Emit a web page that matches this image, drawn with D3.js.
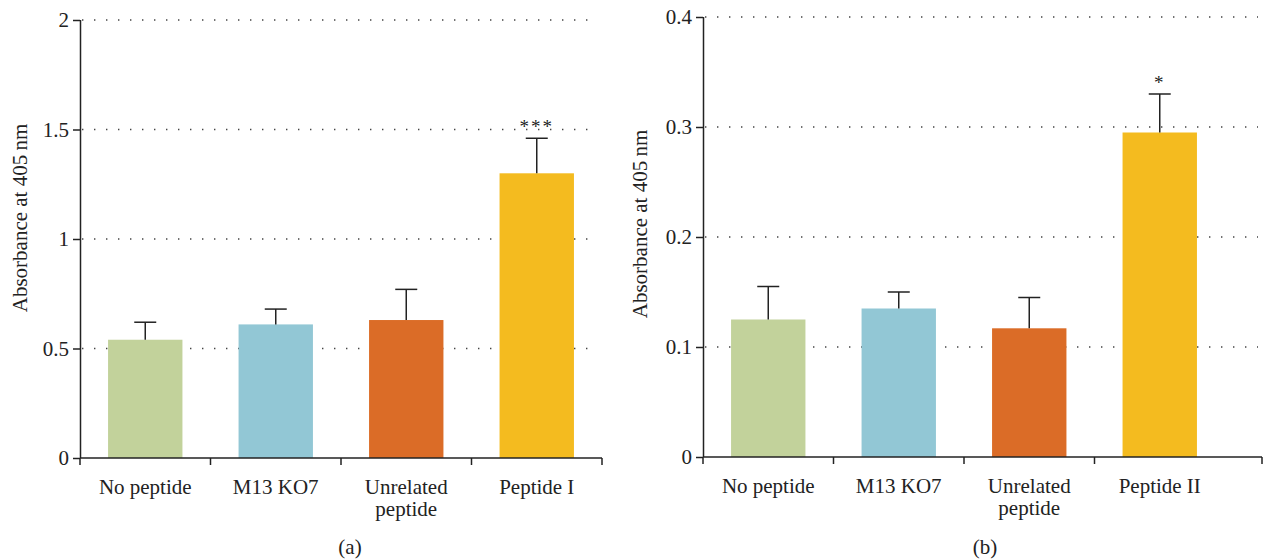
<!DOCTYPE html>
<html>
<head>
<meta charset="utf-8">
<script src="https://cdn.jsdelivr.net/npm/d3@7"></script>
<style>
  body { margin: 0; background: #fff; }
  svg { display: block; }
  svg text { font-family: "Liberation Serif", "Times New Roman", Times, serif !important; fill: #222; }
</style>
</head>
<body>
<div id="chart"></div>
<script>
// data
const categoriesA = ["No peptide", "M13 KO7", "Unrelated peptide", "Peptide I"];
const meansA = [0.54, 0.61, 0.63, 1.30];
const errorsA = [0.08, 0.07, 0.14, 0.16];
const signifA = ["", "", "", "***"];
const ticksA = [0, 0.5, 1, 1.5, 2];

const categoriesB = ["No peptide", "M13 KO7", "Unrelated peptide", "Peptide II"];
const meansB = [0.125, 0.135, 0.117, 0.295];
const errorsB = [0.030, 0.015, 0.028, 0.035];
const signifB = ["", "", "", "*"];
const ticksB = [0, 0.1, 0.2, 0.3, 0.4];

const barColors = ["#c2d29b", "#92c7d5", "#db6c27", "#f4bb1f"];
const fontSize = 21;

const svg = d3.select("#chart").append("svg")
    .attr("width", 1263)
    .attr("height", 560);

function buildPanel(opts) {
  const x = d3.scaleBand()
      .domain(opts.categories)
      .range([opts.left, opts.left + opts.bandsWidth])
      .paddingInner(0.43)
      .paddingOuter(0.215);

  const y = d3.scaleLinear()
      .domain([0, opts.ticks[opts.ticks.length - 1]])
      .range([opts.bottom, opts.top]);

  const g = svg.append("g");

  // dotted grid
  g.selectAll(".grid")
      .data(opts.ticks.filter(function(t) { return t > 0; }))
    .enter().append("line")
      .attr("x1", opts.left + 2)
      .attr("x2", opts.right - 4)
      .attr("y1", function(d) { return y(d); })
      .attr("y2", function(d) { return y(d); })
      .attr("stroke", "#444")
      .attr("stroke-width", 1.4)
      .attr("stroke-dasharray", "1.4,10.6");

  // bars
  g.selectAll(".bar")
      .data(opts.means)
    .enter().append("rect")
      .attr("x", function(d, i) { return x(opts.categories[i]); })
      .attr("width", x.bandwidth())
      .attr("y", function(d) { return y(d); })
      .attr("height", function(d) { return opts.bottom - y(d); })
      .attr("fill", function(d, i) { return barColors[i]; });

  // error bars (upper only)
  const err = g.selectAll(".err")
      .data(opts.means)
    .enter().append("g")
      .attr("stroke", "#222")
      .attr("stroke-width", 1.5);
  err.append("line")
      .attr("x1", function(d, i) { return x(opts.categories[i]) + x.bandwidth() / 2; })
      .attr("x2", function(d, i) { return x(opts.categories[i]) + x.bandwidth() / 2; })
      .attr("y1", function(d) { return y(d); })
      .attr("y2", function(d, i) { return y(d + opts.errors[i]); });
  err.append("line")
      .attr("x1", function(d, i) { return x(opts.categories[i]) + x.bandwidth() / 2 - 11; })
      .attr("x2", function(d, i) { return x(opts.categories[i]) + x.bandwidth() / 2 + 11; })
      .attr("y1", function(d, i) { return y(d + opts.errors[i]); })
      .attr("y2", function(d, i) { return y(d + opts.errors[i]); });

  // significance stars
  g.selectAll(".sig")
      .data(opts.signif)
    .enter().append("text")
      .attr("x", function(d, i) { return x(opts.categories[i]) + x.bandwidth() / 2; })
      .attr("y", function(d, i) { return y(opts.means[i] + opts.errors[i]) - 5; })
      .attr("text-anchor", "middle")
      .attr("font-size", 19)
      .attr("letter-spacing", 2)
      .text(function(d) { return d; });

  // y axis
  const yAxis = g.append("g")
      .attr("transform", "translate(" + opts.left + ",0)")
      .call(d3.axisLeft(y).tickValues(opts.ticks).tickSize(7).tickPadding(4)
        .tickFormat(function(d) { return d3.format("")(d); }));
  yAxis.select(".domain").attr("stroke", "#222").attr("stroke-width", 1.5)
      .attr("d", "M0.5," + opts.top + "V" + opts.bottom);
  yAxis.selectAll(".tick line").attr("stroke", "#222").attr("stroke-width", 1.5);
  yAxis.selectAll(".tick text").attr("font-size", fontSize).attr("fill", "#222");

  // x axis line and boundary ticks
  g.append("line")
      .attr("x1", opts.left).attr("x2", opts.right)
      .attr("y1", opts.bottom).attr("y2", opts.bottom)
      .attr("stroke", "#222").attr("stroke-width", 1.5);
  const edges = [opts.left].concat(opts.categories.slice(1).map(function(c) {
    return x(c) - x.step() * x.paddingInner() / 2;
  }), [opts.right]);
  g.selectAll(".xtick")
      .data(edges)
    .enter().append("line")
      .attr("x1", function(d) { return d; })
      .attr("x2", function(d) { return d; })
      .attr("y1", opts.bottom)
      .attr("y2", opts.bottom + 7)
      .attr("stroke", "#222").attr("stroke-width", 1.5);

  // category labels
  const labels = g.selectAll(".xlabel")
      .data(opts.categories)
    .enter().append("text")
      .attr("text-anchor", "middle")
      .attr("font-size", fontSize)
      .attr("x", function(d) { return x(d) + x.bandwidth() / 2; })
      .attr("y", opts.bottom + 36);
  labels.selectAll("tspan")
      .data(function(d) { return d === "Unrelated peptide" ? ["Unrelated", "peptide"] : [d]; })
    .enter().append("tspan")
      .attr("x", function() { return this.parentNode.getAttribute("x"); })
      .attr("dy", function(d, i) { return i === 0 ? 0 : 22; })
      .text(function(d) { return d; });

  // y title
  g.append("text")
      .attr("transform", "translate(" + opts.titleX + "," + opts.titleY + ") rotate(-90)")
      .attr("text-anchor", "middle")
      .attr("font-size", fontSize)
      .text("Absorbance at 405\u2009nm");

  // panel letter
  g.append("text")
      .attr("x", opts.letterX)
      .attr("y", 554)
      .attr("text-anchor", "middle")
      .attr("font-size", fontSize)
      .text(opts.letter);
}

buildPanel({
  categories: categoriesA, means: meansA, errors: errorsA, signif: signifA, ticks: ticksA,
  left: 80, bandsWidth: 522, right: 602, top: 20, bottom: 458,
  titleX: 27, titleY: 218, letterX: 350, letter: "(a)"
});

buildPanel({
  categories: categoriesB, means: meansB, errors: errorsB, signif: signifB, ticks: ticksB,
  left: 703, bandsWidth: 522, right: 1262, top: 17, bottom: 457,
  titleX: 647, titleY: 224, letterX: 985, letter: "(b)"
});
</script>
</body>
</html>
